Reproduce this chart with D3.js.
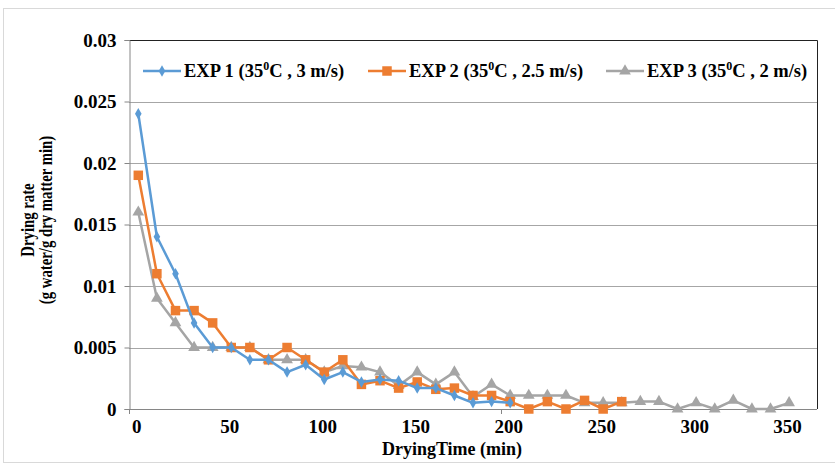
<!DOCTYPE html>
<html>
<head>
<meta charset="utf-8">
<script src="https://cdn.jsdelivr.net/npm/d3@7"></script>
<style>
	body { margin: 0; background: #fff; }
	text { font-family: 'Liberation Serif', 'Times New Roman', serif; font-weight: bold; fill: #000; }
</style>
</head>
<body>
<div id="chart"></div>
<script>
'use strict';

var BLUE = '#5b9bd5';
var ORANGE = '#ed7d31';
var GRAY = '#a5a5a5';

// drying time (min)
var time1 = [0, 10, 20, 30, 40, 50, 60, 70, 80, 90, 100, 110, 120, 130, 140, 150, 160, 170, 180, 190, 200];
var time2 = [0, 10, 20, 30, 40, 50, 60, 70, 80, 90, 100, 110, 120, 130, 140, 150, 160, 170, 180, 190, 200, 210, 220, 230, 240, 250, 260];
var time3 = [0, 10, 20, 30, 40, 50, 60, 70, 80, 90, 100, 110, 120, 130, 140, 150, 160, 170, 180, 190, 200, 210, 220, 230, 240, 250, 260, 270, 280, 290, 300, 310, 320, 330, 340, 350];

// drying rate (g water/g dry matter min)
var rate1 = [0.024, 0.014, 0.011, 0.007, 0.005, 0.005, 0.004, 0.004, 0.003, 0.0036, 0.0024, 0.003, 0.0022, 0.0024, 0.0023, 0.0017, 0.0017, 0.0011, 0.0005, 0.0006, 0.0005];
var rate2 = [0.019, 0.011, 0.008, 0.008, 0.007, 0.005, 0.005, 0.004, 0.005, 0.004, 0.003, 0.004, 0.002, 0.0023, 0.0017, 0.0022, 0.0016, 0.0017, 0.0011, 0.0011, 0.0006, 0, 0.0006, 0, 0.0007, 0, 0.0006];
var rate3 = [0.016, 0.009, 0.007, 0.005, 0.005, 0.005, 0.005, 0.004, 0.004, 0.004, 0.003, 0.0035, 0.0034, 0.003, 0.0019, 0.003, 0.002, 0.003, 0.001, 0.002, 0.0011, 0.0011, 0.0011, 0.0011, 0.0005, 0.0005, 0.0005, 0.0006, 0.0006, 0, 0.0005, 0, 0.0007, 0, 0, 0.0005];

var seriesNames = ['EXP 1 (35', 'EXP 2 (35', 'EXP 3 (35'];
var seriesTails = ['C , 3 m/s)', 'C , 2.5 m/s)', 'C , 2 m/s)'];

var xTicks = [0, 50, 100, 150, 200, 250, 300, 350];
var yTicks = [0, 0.005, 0.01, 0.015, 0.02, 0.025, 0.03];

var width = 835, height = 465;
var plot = { left: 129, top: 40, right: 817, bottom: 409 };

var svg = d3.select('#chart').append('svg')
	.attr('width', width)
	.attr('height', height);

// outer chart border
svg.append('rect')
	.attr('x', 3.5).attr('y', 8.5)
	.attr('width', 840).attr('height', 454)
	.style('fill', '#fff')
	.style('stroke', '#d9d9d9');

var x = d3.scaleLinear().domain([-5, 365]).range([plot.left, plot.right]);
var y = d3.scaleLinear().domain([0, 0.03]).range([plot.bottom, plot.top]);

// gridlines
svg.append('g').selectAll('line')
	.data(yTicks.slice(1, -1))
	.enter().append('line')
	.attr('x1', plot.left).attr('x2', plot.right)
	.attr('y1', function(d) { return Math.round(y(d)) + 0.5; })
	.attr('y2', function(d) { return Math.round(y(d)) + 0.5; })
	.style('stroke', '#a6a6a6')
	.style('stroke-width', 1);

// plot area border (top, right)
svg.append('path')
	.attr('d', 'M' + plot.left + ',' + (plot.top + 0.5) + 'H' + (plot.right + 0.5) + 'V' + plot.bottom)
	.style('fill', 'none')
	.style('stroke', '#222')
	.style('stroke-width', 1);

// y axis
var yAxis = d3.axisLeft(y)
	.tickValues(yTicks)
	.tickSize(5)
	.tickPadding(8)
	.tickFormat(function(d) { return d3.format('~g')(+d.toFixed(3)); });
var yg = svg.append('g')
	.attr('transform', 'translate(' + (plot.left + 0.5) + ',0)')
	.call(yAxis);
yg.selectAll('.tick line').style('stroke', '#868686');
yg.select('.domain').style('stroke', '#868686');
yg.selectAll('text').style('font-size', '19px').style('font-family', null);

// x axis: baseline with labels
svg.append('line')
	.attr('x1', plot.left).attr('x2', plot.right)
	.attr('y1', plot.bottom + 0.5).attr('y2', plot.bottom + 0.5)
	.style('stroke', '#868686');

svg.append('g').selectAll('line')
	.data([-5, 195])
	.enter().append('line')
	.attr('x1', function(d) { return Math.round(x(d)) + 0.5; })
	.attr('x2', function(d) { return Math.round(x(d)) + 0.5; })
	.attr('y1', plot.bottom)
	.attr('y2', plot.bottom + 5)
	.style('stroke', '#868686');

svg.append('g').selectAll('text')
	.data(xTicks)
	.enter().append('text')
	.attr('x', function(d) { return x(d) - 1.5; })
	.attr('y', plot.bottom + 24)
	.attr('text-anchor', 'middle')
	.style('font-size', '19px')
	.text(function(d) { return d; });

// axis titles
svg.append('text')
	.attr('x', 452)
	.attr('y', 455)
	.attr('text-anchor', 'middle')
	.style('font-size', '18px')
	.text('DryingTime (min)');

// the picture is squeezed vertically, so the rotated title is shorter than its glyphs suggest
var ytitle = svg.append('text')
	.attr('transform', 'translate(34,220) rotate(-90) scale(0.82,1)')
	.attr('text-anchor', 'middle')
	.style('font-size', '18px');
ytitle.append('tspan').attr('x', 0).attr('dy', 0).text('Drying rate');
ytitle.append('tspan').attr('x', 0).attr('dy', 18).text('(g water/g dry matter min)');

// series
var line = d3.line()
	.x(function(d) { return x(d[0]); })
	.y(function(d) { return y(d[1]); });

function drawSeries(times, rates, color, symbol, size) {
	var pts = d3.zip(times, rates);
	svg.append('path')
		.datum(pts)
		.attr('d', line)
		.style('fill', 'none')
		.style('stroke', color)
		.style('stroke-width', 2.5)
		.style('stroke-linejoin', 'round');
	svg.append('g').selectAll('path')
		.data(pts)
		.enter().append('path')
		.attr('transform', function(d) { return 'translate(' + x(d[0]) + ',' + y(d[1]) + ')'; })
		.attr('d', d3.symbol().type(symbol).size(size))
		.style('fill', color);
}

drawSeries(time3, rate3, GRAY, d3.symbolTriangle, 60);
drawSeries(time2, rate2, ORANGE, d3.symbolSquare, 90);
drawSeries(time1, rate1, BLUE, d3.symbolDiamond, 38);

// legend
var legendItems = [
	{ x: 143, color: BLUE, symbol: d3.symbolDiamond, size: 38 },
	{ x: 368, color: ORANGE, symbol: d3.symbolSquare, size: 90 },
	{ x: 606, color: GRAY, symbol: d3.symbolTriangle, size: 60 }
];
var ly = 71;
legendItems.forEach(function(item, i) {
	var g = svg.append('g').attr('transform', 'translate(' + item.x + ',' + ly + ')');
	g.append('line')
		.attr('x1', 0).attr('x2', 38)
		.style('stroke', item.color)
		.style('stroke-width', 2.5);
	g.append('path')
		.attr('transform', 'translate(19,0)')
		.attr('d', d3.symbol().type(item.symbol).size(item.size))
		.style('fill', item.color);
	var t = g.append('text')
		.attr('x', 41)
		.attr('y', 6)
		.style('font-size', '18.5px');
	t.append('tspan').text(seriesNames[i]);
	t.append('tspan').attr('dy', -7).style('font-size', '12px').text('0');
	t.append('tspan').attr('dy', 7).text(seriesTails[i]);
});
</script>
</body>
</html>
